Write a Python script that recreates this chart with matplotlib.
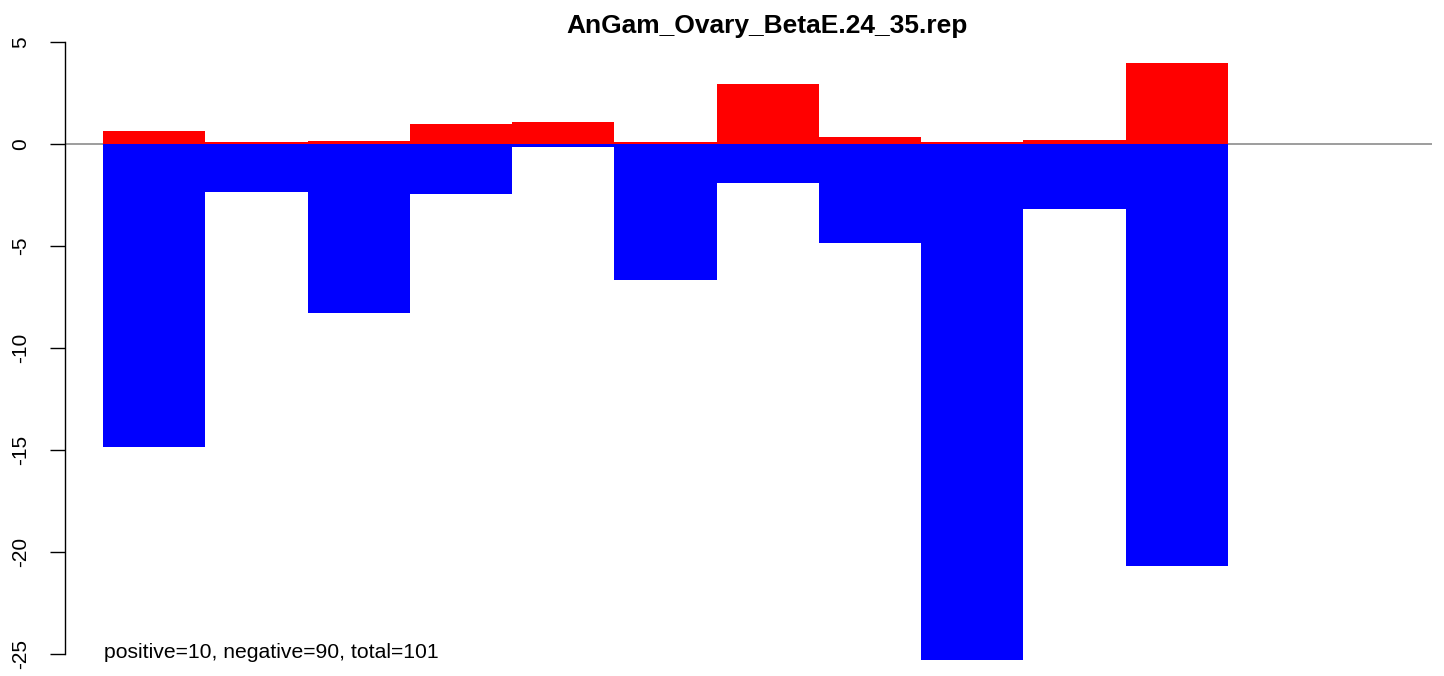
import matplotlib
matplotlib.use("Agg")
import matplotlib.pyplot as plt

plt.rcParams["font.family"] = ["Liberation Sans", "DejaVu Sans"]
plt.rcParams["axes.unicode_minus"] = False

title = "AnGam_Ovary_BetaE.24_35.rep"
summary = "positive=10, negative=90, total=101"
positive = [0.62, 0.07, 0.12, 0.96, 1.05, 0.09, 2.92, 0.32, 0.09, 0.17, 3.95]
negative = [-14.88, -2.38, -8.31, -2.45, -0.17, -6.69, -1.94, -4.88, -25.3, -3.21, -20.7]
yticks = [5, 0, -5, -10, -15, -20, -25]

W, H = 1444, 676
fig = plt.figure(figsize=(W / 100, H / 100), dpi=100)
ax = fig.add_axes([65 / W, 0, (1432 - 65) / W, 1])
ax.set_xlim(-0.372, 12.995)
ax.set_ylim(-26.09, 7.05)

x = list(range(len(positive)))
ax.axhline(0, color="#8c8c8c", lw=1.2, zorder=1)
ax.bar(x, positive, width=1, align="edge", color="#ff0000", linewidth=0, zorder=2)
ax.bar(x, negative, width=1, align="edge", color="#0000ff", linewidth=0, zorder=2)

for s in ["top", "right", "bottom"]:
    ax.spines[s].set_visible(False)
ax.spines["left"].set_bounds(min(yticks), max(yticks))
ax.spines["left"].set_linewidth(1.0)
ax.set_xticks([])
ax.set_yticks(yticks)
ax.set_yticklabels([str(t) for t in yticks], rotation=90, va="center", fontsize=15)
ax.tick_params(axis="y", length=10.8, width=1.0, pad=14)

ax.text(0.01, -25.2, summary, fontsize=15.2, ha="left", va="baseline")
fig.text(767 / W, 1 - 33 / H, title, fontsize=19, fontweight="bold", ha="center", va="baseline")

fig.savefig("out.png", dpi=100)
